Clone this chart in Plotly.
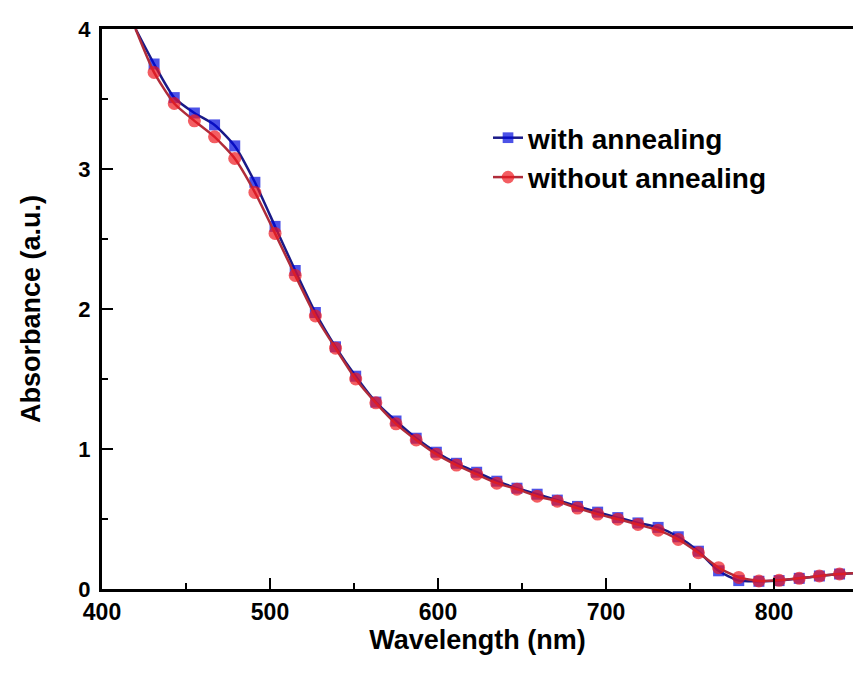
import plotly.graph_objects as go

wavelength = [420, 431, 443, 455, 467, 479, 491, 503, 515, 527, 539, 551, 563, 575, 587,
              599, 611, 623, 635, 647, 659, 671, 683, 695, 707, 719, 731, 743, 755,
              767, 779, 791, 803, 815, 827, 839, 851]

with_annealing = [4.00, 3.75, 3.51, 3.40, 3.315, 3.165, 2.905, 2.59, 2.275, 1.975, 1.73, 1.52,
                  1.335, 1.20, 1.077, 0.977, 0.898, 0.834, 0.770, 0.720, 0.677, 0.635,
                  0.590, 0.549, 0.510, 0.472, 0.440, 0.373, 0.270, 0.130, 0.060, 0.055,
                  0.060, 0.076, 0.093, 0.107, 0.115]

without_annealing = [4.00, 3.69, 3.468, 3.344, 3.23, 3.075, 2.833, 2.54, 2.24, 1.95, 1.72, 1.50,
                     1.33, 1.18, 1.065, 0.963, 0.885, 0.820, 0.756, 0.713, 0.663, 0.627,
                     0.578, 0.535, 0.499, 0.461, 0.420, 0.354, 0.259, 0.152, 0.083, 0.057,
                     0.062, 0.076, 0.093, 0.107, 0.115]

x_ticks = [400, 500, 600, 700, 800]
y_ticks = [0, 1, 2, 3, 4]

FONT = "Liberation Sans, Arial, sans-serif"

# no marker on the first (entry) point
marker_sizes_sq = [0] + [11] * (len(wavelength) - 1)
marker_sizes_ci = [0] + [13] * (len(wavelength) - 1)

fig = go.Figure()
fig.add_trace(go.Scatter(
    x=wavelength, y=with_annealing, name="with annealing",
    mode="lines+markers", line=dict(color="#1a1a88", width=2.5, shape="spline", smoothing=0.6),
    marker=dict(symbol="square", size=marker_sizes_sq, color="#0008dd",
                line=dict(width=0)),
))
fig.add_trace(go.Scatter(
    x=wavelength, y=without_annealing, name="without annealing",
    mode="lines+markers", line=dict(color="#b02c3a", width=2.5, shape="spline", smoothing=0.6),
    marker=dict(symbol="circle", size=marker_sizes_ci, color="#ee1820",
                line=dict(width=0)),
))

fig.update_layout(
    width=853, height=675,
    margin=dict(l=102, r=0, t=29, b=86),
    paper_bgcolor="white", plot_bgcolor="white",
    font=dict(family=FONT, size=22, color="black", weight="bold"),
    showlegend=True,
    legend=dict(x=0.514, y=0.85, xanchor="left", yanchor="top",
                bgcolor="rgba(0,0,0,0)", font=dict(family=FONT, size=28, weight="bold"),
                itemwidth=30, tracegroupgap=0),
    xaxis=dict(
        range=[400, 847], tickmode="array", tickvals=x_ticks,
        ticks="inside", ticklen=11, tickwidth=2, tickcolor="black",
        showline=True, linewidth=3, linecolor="black", mirror=True,
        showgrid=False, zeroline=False,
        tickfont=dict(family=FONT, size=23, weight="bold"),
        minor=dict(dtick=50, ticks="inside", ticklen=6, tickwidth=2, tickcolor="black"),
        title=dict(text="Wavelength (nm)", font=dict(family=FONT, size=27, weight="bold"), standoff=4),
    ),
    yaxis=dict(
        range=[0, 4], tickmode="array", tickvals=y_ticks,
        ticks="inside", ticklen=11, tickwidth=2, tickcolor="black",
        showline=True, linewidth=3, linecolor="black", mirror=False,
        showgrid=False, zeroline=False, ticklabelstandoff=4,
        tickfont=dict(family=FONT, size=22, weight="bold"),
        minor=dict(dtick=0.5, ticks="inside", ticklen=6, tickwidth=2, tickcolor="black"),
        title=dict(text="Absorbance (a.u.)", font=dict(family=FONT, size=27, weight="bold"), standoff=30),
    ),
)

fig.write_html("out.html", config={"displayModeBar": False},
               post_script="document.body.style.margin='0';document.body.style.overflow='hidden';")
